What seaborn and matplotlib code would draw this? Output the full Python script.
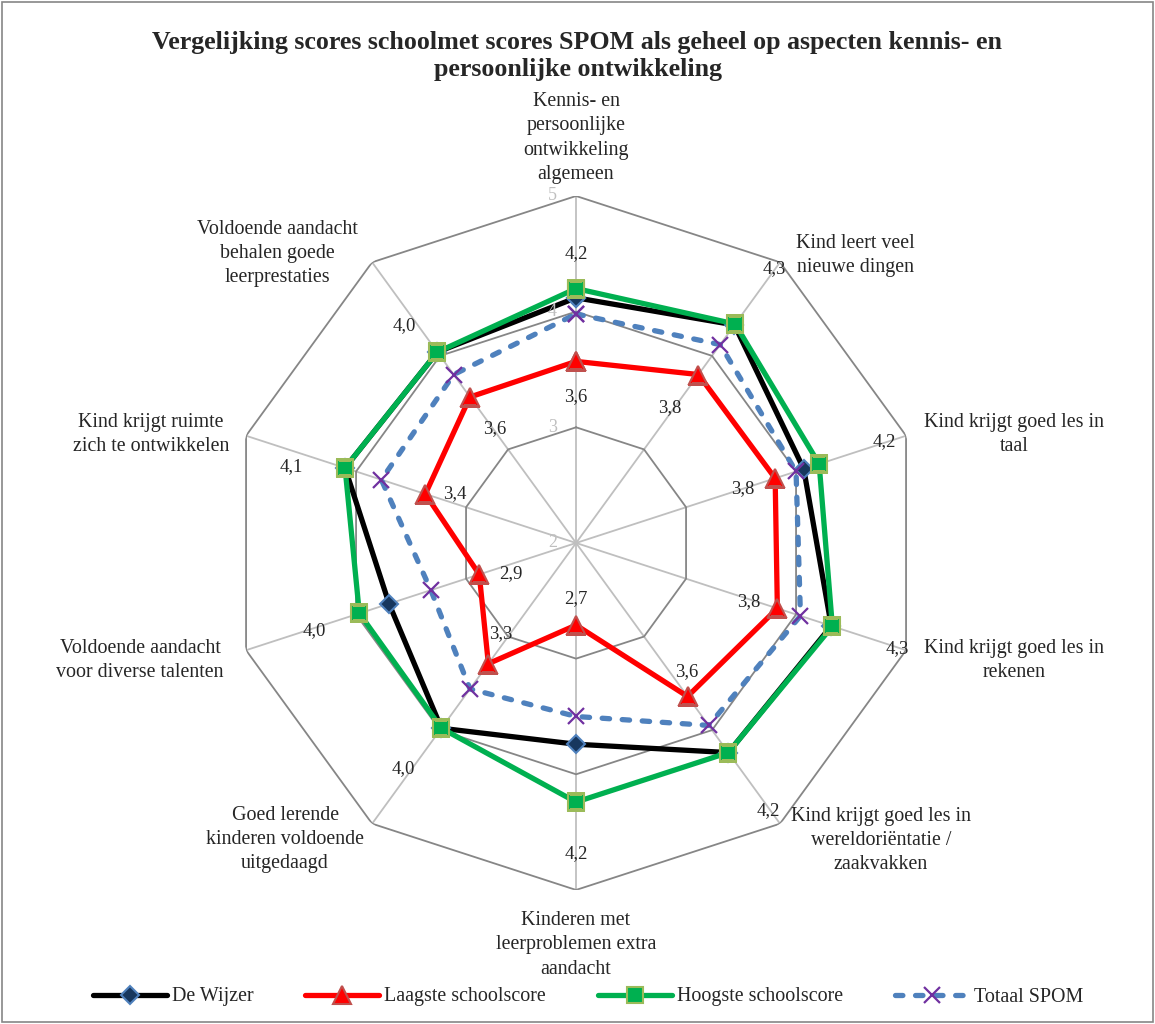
import numpy as np
import matplotlib
matplotlib.use('Agg')
import matplotlib.pyplot as plt
import seaborn as sns
from matplotlib.lines import Line2D

# Categories (clockwise from the top)
categories = [
    'Kennis- en\npersoonlijke\nontwikkeling\nalgemeen',
    'Kind leert veel\nnieuwe dingen',
    'Kind krijgt goed les in\ntaal',
    'Kind krijgt goed les in\nrekenen',
    'Kind krijgt goed les in\nwereldoriëntatie /\nzaakvakken',
    'Kinderen met\nleerproblemen extra\naandacht',
    'Goed lerende\nkinderen voldoende\nuitgedaagd',
    'Voldoende aandacht\nvoor diverse talenten',
    'Kind krijgt ruimte\nzich te ontwikkelen',
    'Voldoende aandacht\nbehalen goede\nleerprestaties',
]

# Series values
de_wijzer = [4.12, 4.33, 4.07, 4.32, 4.24, 3.74, 3.98, 3.70, 4.10, 4.04]
laagste = [3.57, 3.80, 3.81, 3.83, 3.64, 2.71, 3.29, 2.88, 3.37, 3.56]
hoogste = [4.20, 4.34, 4.21, 4.33, 4.24, 4.24, 3.98, 3.97, 4.10, 4.04]
totaal = [3.98, 4.12, 4.00, 4.04, 3.95, 3.50, 3.56, 3.32, 3.77, 3.80]

ring_ticks = [2, 3, 4, 5]

# Styling / label placement (pixels)
cat_offsets = [(0, 58), (75, 7), (108, 1), (108, -10), (101, -17),
               (0, -55), (-87, -16), (-106, -10), (-95, 1), (-95, 9)]
hi_offsets = [(0, 35), (39, 55), (65, 22), (65, -22), (40, -58),
              (0, -52), (-38, -40), (-45, -17), (-54, 1), (-33, 26)]
lo_offsets = [(0, -35), (-29, -33), (-32, -10), (-29, 7), (-1, 25),
              (0, 27), (12, 30), (32, 1), (29, 0), (25, -32)]

sns.set_style('white')
plt.rcParams['font.family'] = ['Liberation Serif', 'DejaVu Serif']

fig = plt.figure(figsize=(11.55, 10.24), dpi=100)
ax = fig.add_axes([0.1983, 0.1309, 0.6009, 0.6777], projection='polar')
ax.set_theta_offset(np.pi / 2)
ax.set_theta_direction(-1)

n = len(categories)
theta = np.linspace(0, 2 * np.pi, n, endpoint=False)
theta_c = np.append(theta, theta[0] + 2 * np.pi)

def closed(v):
    return np.append(v, v[0])

# grid: decagon rings and spokes
for t in theta:
    ax.plot([t, t], [ring_ticks[0], ring_ticks[-1]], color='#bfbfbf', lw=1.3, zorder=1)
for r in ring_ticks[1:]:
    ax.plot(theta_c, [r] * (n + 1), color='#868686', lw=1.3, zorder=1)

series = [
    ('De Wijzer', de_wijzer, dict(color='black', marker='D', markersize=9,
                                  markerfacecolor='#17375e', markeredgecolor='#4f81bd')),
    ('Laagste schoolscore', laagste, dict(color='#ff0000', marker='^', markersize=13,
                                          markerfacecolor='#ff0000', markeredgecolor='#c0504d')),
    ('Hoogste schoolscore', hoogste, dict(color='#00b050', marker='s', markersize=11,
                                          markerfacecolor='#00b050', markeredgecolor='#9bbb59')),
    ('Totaal SPOM', totaal, dict(color='#4f81bd', marker='x', markersize=11,
                                 markeredgecolor='#7030a0', markeredgewidth=1.6,
                                 linestyle=(0, (1.4, 2.4)), dash_capstyle='round')),
]

handles = []
for i, (name, vals, kw) in enumerate(series):
    mew = kw.pop('markeredgewidth', 1.5)
    sns.lineplot(x=theta_c, y=closed(vals), ax=ax, sort=False, lw=3.8,
                 markeredgewidth=mew, zorder=3 + i, **kw)
    handles.append(Line2D([], [], lw=3.8, markeredgewidth=mew, **kw))

ax.set_ylim(ring_ticks[0], ring_ticks[-1])
ax.grid(False)
ax.spines['polar'].set_visible(False)
ax.set_xticks([])
ax.set_yticks([])
ax.set_xlabel('')
ax.set_ylabel('')
ax.patch.set_alpha(0)

# ring values along the top axis
for r in ring_ticks:
    ax.annotate(str(r), xy=(0, r), xytext=(-19, 0), textcoords='offset pixels',
                ha='right', va='center', fontsize=13, color='#bfbfbf')

# category labels
for t, lab, off in zip(theta, categories, cat_offsets):
    ax.annotate(lab, xy=(t, ring_ticks[-1]), xytext=off, textcoords='offset pixels',
                ha='center', va='center', fontsize=14.4, linespacing=1.37,
                annotation_clip=False)

# data labels for highest and lowest
for t, v, off in zip(theta, hoogste, hi_offsets):
    ax.annotate(f'{v:.1f}'.replace('.', ','), xy=(t, v), xytext=off,
                textcoords='offset pixels', ha='center', va='center', fontsize=13.5)
for t, v, off in zip(theta, laagste, lo_offsets):
    ax.annotate(f'{v:.1f}'.replace('.', ','), xy=(t, v), xytext=off,
                textcoords='offset pixels', ha='center', va='center', fontsize=13.5)

fig.text(0.5, 1 - 56 / 1024,
         'Vergelijking scores schoolmet scores SPOM als geheel op aspecten kennis- en\n'
         'persoonlijke ontwikkeling',
         ha='center', va='center', fontsize=18.7, fontweight='bold', linespacing=1.27)

fig.legend(handles, [s[0] for s in series], loc='center', ncol=4,
           bbox_to_anchor=(0.509, 1 - 997 / 1024), frameon=False, fontsize=14.4,
           handlelength=3.7, columnspacing=2.6, handletextpad=0.25, numpoints=1)

# outer border
fig.add_artist(plt.Rectangle((0.0015, 0.0015), 0.997, 0.997, transform=fig.transFigure,
                             fill=False, edgecolor='#868686', lw=1.2))

fig.savefig('out.png', dpi=100)
